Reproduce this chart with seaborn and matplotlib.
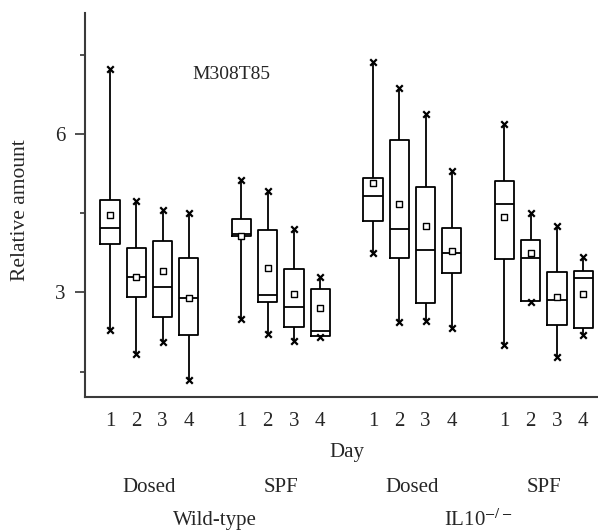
import numpy as np
import pandas as pd
import matplotlib
matplotlib.use("Agg")
import matplotlib.pyplot as plt
import matplotlib.transforms as mtransforms
import seaborn as sns

# ---------------- data ----------------
genotypes = ["Wild-type", "IL10$^{-/-}$"]
treatments = ["Dosed", "SPF", "Dosed", "SPF"]
days = ["1", "2", "3", "4"]
title_text = "M308T85"

# one value per box, ordered group by group (Wt Dosed, Wt SPF, IL10 Dosed, IL10 SPF), day 1..4
whisker_max = [7.23, 4.72, 4.55, 4.50,  5.12, 4.91, 4.19, 3.29,
               7.35, 6.87, 6.37, 5.29,  6.19, 4.50, 4.25, 3.67]
upper_quartile = [4.74, 3.84, 3.97, 3.65,  4.38, 4.18, 3.45, 3.06,
                  5.16, 5.88, 4.99, 4.22,  5.11, 4.00, 3.38, 3.40]
median = [4.22, 3.29, 3.11, 2.89,  4.10, 2.95, 2.72, 2.26,
          4.83, 4.19, 3.80, 3.75,  4.68, 3.65, 2.86, 3.28]
lower_quartile = [3.92, 2.92, 2.53, 2.19,  4.07, 2.82, 2.35, 2.18,
                  4.35, 3.65, 2.79, 3.37,  3.63, 2.83, 2.38, 2.32]
whisker_min = [2.28, 1.83, 2.07, 1.34,  2.50, 2.21, 2.08, 2.16,
               3.74, 2.43, 2.45, 2.32,  2.01, 2.82, 1.77, 2.19]
mean = [4.46, 3.29, 3.40, 2.89,  4.07, 3.47, 2.97, 2.70,
        5.06, 4.67, 4.25, 3.79,  4.43, 3.75, 2.92, 2.97]

# ---------------- build long table ----------------
group_gap = 5  # slot spacing between treatment groups
rows = []
pos_list = []
for gi in range(len(treatments)):
    for di in range(len(days)):
        k = gi * len(days) + di
        pos = gi * group_gap + di
        pos_list.append(pos)
        for v in (whisker_min[k], lower_quartile[k], median[k],
                  upper_quartile[k], whisker_max[k]):
            rows.append({"pos": pos, "value": v})
df = pd.DataFrame(rows)
positions = np.array(pos_list, dtype=float)

# ---------------- figure ----------------
sns.set_style("ticks")
plt.rcParams["font.family"] = ["Liberation Serif", "DejaVu Serif"]
plt.rcParams["mathtext.fontset"] = "stix"

FS = 15
W, H = 598, 531
fig = plt.figure(figsize=(W / 100, H / 100), dpi=100)
left_px, top_px, bottom_px = 85.3, 13.3, 397.0
ax = fig.add_axes([left_px / W, 1 - bottom_px / H, 1 - left_px / W,
                   (bottom_px - top_px) / H])

sns.boxplot(data=df, x="pos", y="value", native_scale=True, whis=(0, 100),
            width=0.73, fill=False, color="black", linecolor="black",
            linewidth=1.3, showfliers=False, ax=ax,
            capprops={"linewidth": 0})

ends_x = np.concatenate([positions, positions])
ends_y = np.concatenate([whisker_min, whisker_max])
sns.scatterplot(x=ends_x, y=ends_y, marker="x", color="black", s=22,
                linewidth=1.6, ax=ax, zorder=5)
sns.scatterplot(x=positions, y=mean, marker="s", color="white",
                edgecolor="black", s=16, linewidth=1.0, ax=ax, zorder=6)

ax.set_xlim(-0.94, 18.56)
ax.set_ylim(1.02, 8.28)

ax.set_yticks([3, 6])
ax.set_yticklabels(["3", "6"])
ax.set_yticks([1.5, 4.5, 7.5], minor=True)
ax.tick_params(axis="y", which="major", length=7, width=1.2, pad=7,
               labelsize=FS, color="#333333")
ax.tick_params(axis="y", which="minor", length=3.5, width=1.2,
               color="#333333")

ax.set_xticks(positions)
ax.set_xticklabels(days * len(treatments))
ax.tick_params(axis="x", length=0, pad=11, labelsize=FS)

ax.set_xlabel("")
ax.set_ylabel("")
fig.text(21 / W, 1 - 210 / H, "Relative amount", rotation=90,
         ha="center", va="center", fontsize=FS + 0.5)

for side in ("top", "right"):
    ax.spines[side].set_visible(False)
for side in ("left", "bottom"):
    ax.spines[side].set_color("#3a3a3a")
    ax.spines[side].set_linewidth(1.5)

ax.text(3.12, 7.12, title_text, ha="left", va="center", fontsize=14)

# labels below the axis: x in data units, y in figure fraction
trans = mtransforms.blended_transform_factory(ax.transData, fig.transFigure)
centre_all = (positions.min() + positions.max()) / 2
ax.text(centre_all, 1 - 452 / H, "Day", transform=trans, ha="center",
        va="center", fontsize=FS)
group_centres = []
for gi, t in enumerate(treatments):
    c = gi * group_gap + (len(days) - 1) / 2
    group_centres.append(c)
    ax.text(c, 1 - 487 / H, t, transform=trans, ha="center", va="center",
            fontsize=FS)
for gi, g in enumerate(genotypes):
    c = (group_centres[2 * gi] + group_centres[2 * gi + 1]) / 2
    ax.text(c, 1 - 520 / H, g, transform=trans, ha="center", va="center",
            fontsize=FS)

fig.savefig("out.png", dpi=100)
